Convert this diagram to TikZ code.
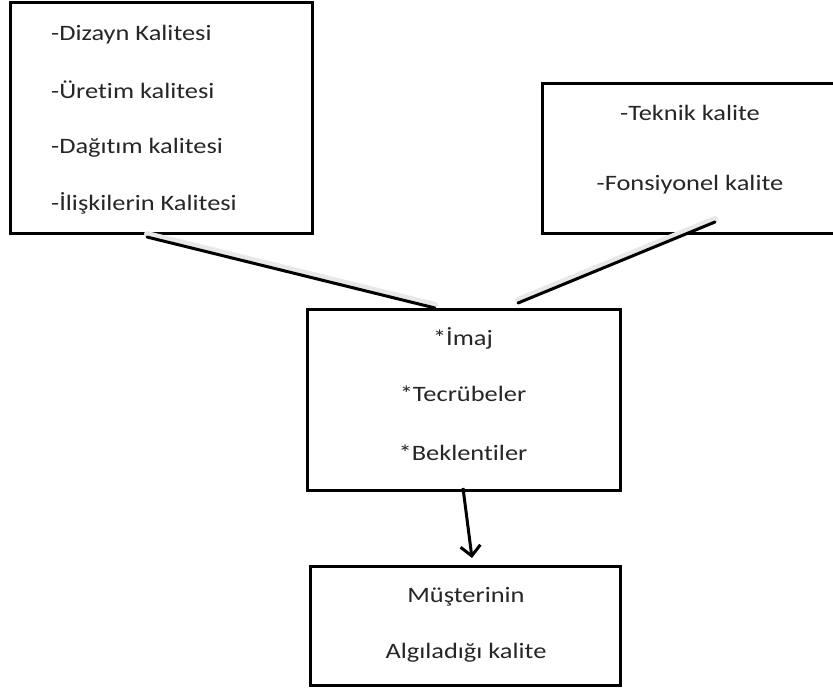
\documentclass[tikz,border=0pt]{standalone}
\usepackage{fontspec}
\setmainfont{Carlito}[FakeStretch=1.2,Ligatures=NoCommon]
\usetikzlibrary{arrows.meta}
\begin{document}
\begin{tikzpicture}[x=1pt,y=-1pt,
  box/.style={draw=black,line width=3pt,inner sep=0pt},
  txt/.style={inner sep=0pt,text=black!85,font=\fontsize{22}{26}\selectfont},
  link/.style={line width=3pt,line cap=round},
  shade/.style={line width=6pt,draw=black!9,line cap=round},
]
\useasboundingbox (0,0) rectangle (833,689);
\fill[white] (0,0) rectangle (833,689);

% boxes
\node[box,minimum width=302pt,minimum height=231pt] (b1) at (161,117.5) {};
\node[box,minimum width=294pt,minimum height=150pt] (b2) at (689,158) {};
\node[box,minimum width=313pt,minimum height=181pt] (b3) at (463.5,399.5) {};
\node[box,minimum width=310pt,minimum height=119pt] (b4) at (465,625.5) {};

% texts of the first box
\node[txt,anchor=west] (t11) at (51,35)  {-Dizayn Kalitesi};
\node[txt,anchor=west] (t12) at (51,90)  {-Üretim kalitesi};
\node[txt,anchor=west] (t13) at (51,148) {-Dağıtım kalitesi};
\node[txt,anchor=west] (t14) at (51,203) {-İlişkilerin Kalitesi};

% texts of the second box
\node[txt] (t21) at (690,113) {-Teknik kalite};
\node[txt] (t22) at (690,185) {-Fonsiyonel kalite};

% texts of the middle box
\node[txt] (t31) at (463,338) {*İmaj};
\node[txt] (t32) at (463,394) {*Tecrübeler};
\node[txt] (t33) at (463,453) {*Beklentiler};

% texts of the result box
\node[txt] (t41) at (466,597) {Müşterinin};
\node[txt] (t42) at (466,653) {Algılad\i ğı kalite};

% connector end points
\coordinate (l1a) at (147,237);
\coordinate (l1b) at (435,308);
\coordinate (l2a) at (715,222);
\coordinate (l2b) at (518,303);
\coordinate (ara) at (463,488);
\coordinate (arb) at (472,558);

% soft shadows under the lines
\draw[shade] ([yshift=3pt]l1a) -- ([yshift=3pt]l1b);
\draw[shade] ([yshift=3pt]l2a) -- ([yshift=3pt]l2b);

% connectors
\draw[link] (l1a) -- (l1b);
\draw[link] (l2a) -- (l2b);
\draw[line width=3pt,-{Straight Barb[length=10pt,width=20pt,line width=3pt]}] (ara) -- (arb);
\end{tikzpicture}
\end{document}
